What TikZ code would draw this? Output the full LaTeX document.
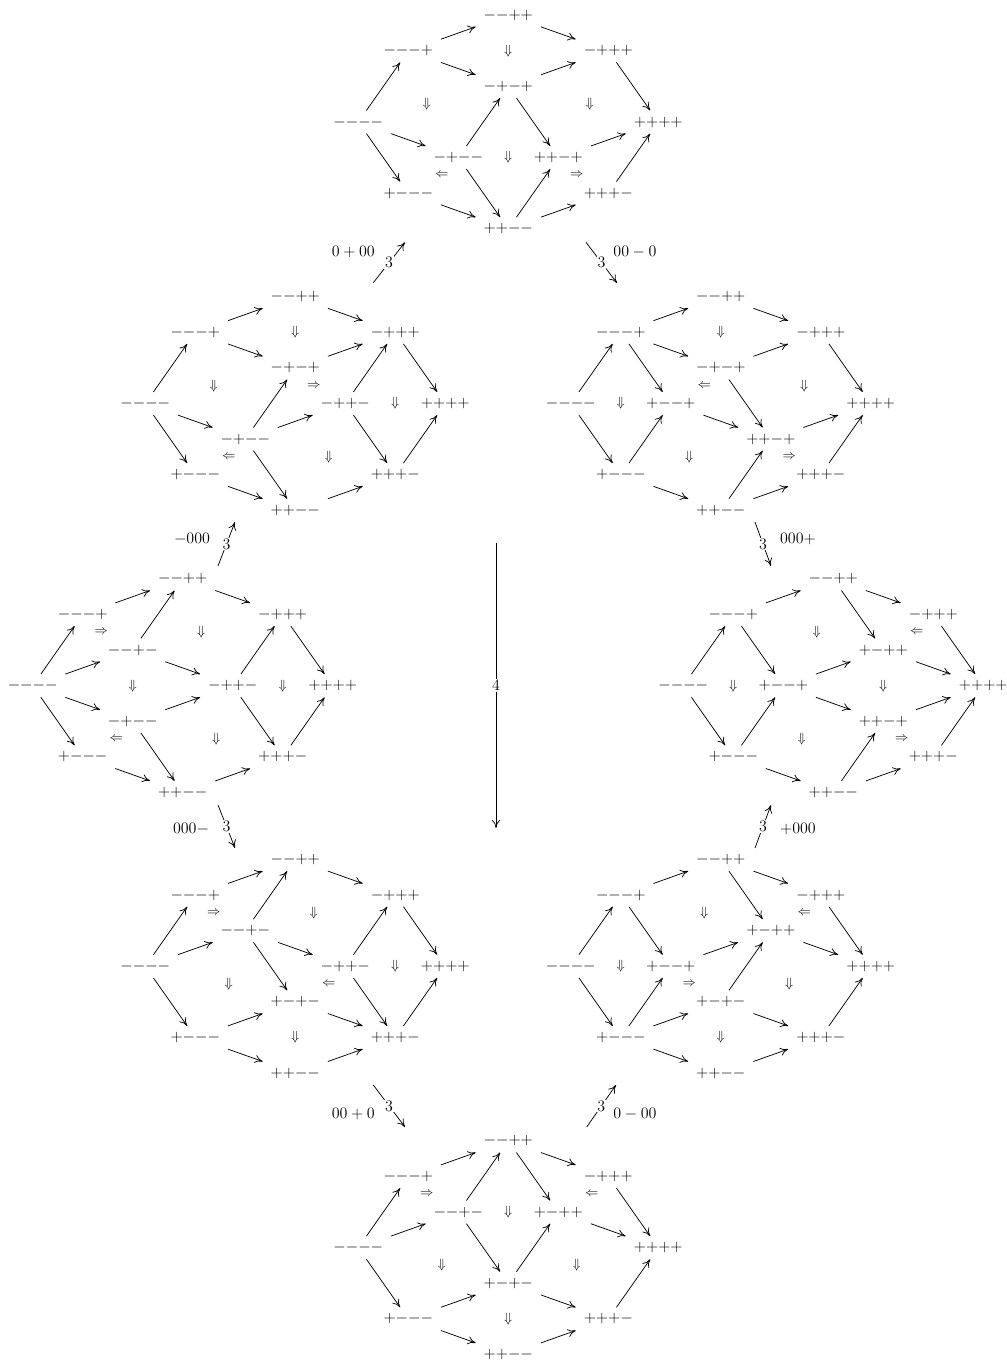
\RequirePackage{fix-cm}
\documentclass[tikz,border=0pt]{standalone}
\usetikzlibrary{arrows.meta}
\newcommand\sv[1]{\if#1p1\else0\fi}
\newcommand\sgn[1]{\if#1p{+}\else{-}\fi}
\newcommand\V[5]{\node[vx] (#1#2#3#4#5) at ({50*(\sv#2+2*\sv#3+2*\sv#4+\sv#5)},{-35.6*(-2*\sv#2-\sv#3+\sv#4+2*\sv#5)}) {$\sgn#2\sgn#3\sgn#4\sgn#5$};}
\newcommand\E[3]{\draw[arr] (#1#2) -- (#1#3);}
\newcommand\Mk[4]{\node[mk] (#1) at ({50*(#2)},{-35.6*(#3)}) {$#4$};}
\newcommand\Bd[1]{%
  \V#1mmmm \V#1mmmp \V#1mmpp \V#1mppp \V#1pppp \V#1pmmm \V#1ppmm \V#1pppm
  \E#1{mmmm}{mmmp}\E#1{mmmp}{mmpp}\E#1{mmpp}{mppp}\E#1{mppp}{pppp}%
  \E#1{mmmm}{pmmm}\E#1{pmmm}{ppmm}\E#1{ppmm}{pppm}\E#1{pppm}{pppp}}
\tikzset{
  vx/.style={inner xsep=6pt, inner ysep=0pt, minimum height=17pt, text height=7pt, text depth=1pt, font=\fontsize{12}{14}\selectfont},
  arr/.style={line width=0.55pt, -{Computer Modern Rightarrow[length=6pt,width=6pt]}},
  mk/.style={inner sep=0pt, font=\fontsize{10}{12}\selectfont},
  lbl/.style={inner sep=1pt, font=\fontsize{12}{14}\selectfont},
  lbl3/.style={fill=white, inner sep=0.6pt, font=\fontsize{12}{14}\selectfont},
}
\begin{document}
\begin{tikzpicture}[x=0.75pt,y=-0.75pt]
\useasboundingbox (0,0) rectangle (1007,1365);
% ---- A (top)
\begin{scope}[shift={(358.3,122)}]
\Bd A
\V Ampmp \V Ampmm \V Appmp
\E A{mmmp}{mpmp}\E A{mpmp}{mppp}\E A{mmmm}{mpmm}\E A{mpmm}{mpmp}
\E A{mpmp}{ppmp}\E A{mpmm}{ppmm}\E A{ppmm}{ppmp}\E A{ppmp}{pppp}
\Mk{Aa}{3}{2}{\Downarrow}\Mk{Ab}{1.37}{0.5}{\Downarrow}\Mk{Ac}{4.63}{0.5}{\Downarrow}
\Mk{Ad}{3}{-1}{\Downarrow}\Mk{Ae}{1.67}{-1.5}{\Leftarrow}\Mk{Af}{4.37}{-1.5}{\Rightarrow}
\end{scope}
% ---- B
\begin{scope}[shift={(145.3,403.5)}]
\Bd B
\V Bmpmp \V Bmppm \V Bmpmm
\E B{mmmp}{mpmp}\E B{mpmp}{mppp}\E B{mmmm}{mpmm}\E B{mpmm}{mpmp}
\E B{mpmm}{mppm}\E B{mpmm}{ppmm}\E B{mppm}{mppp}\E B{mppm}{pppm}
\Mk{Ba}{3}{2}{\Downarrow}\Mk{Bb}{1.37}{0.5}{\Downarrow}\Mk{Bc}{3.37}{0.5}{\Rightarrow}
\Mk{Bd}{5}{0}{\Downarrow}\Mk{Be}{1.67}{-1.5}{\Leftarrow}\Mk{Bf}{3.67}{-1.5}{\Downarrow}
\end{scope}
% ---- C
\begin{scope}[shift={(570.8,403.5)}]
\Bd C
\V Cmpmp \V Cpmmp \V Cppmp
\E C{mmmp}{mpmp}\E C{mpmp}{mppp}\E C{mmmp}{pmmp}\E C{pmmm}{pmmp}
\E C{pmmp}{ppmp}\E C{mpmp}{ppmp}\E C{ppmm}{ppmp}\E C{ppmp}{pppp}
\Mk{Ca}{3}{2}{\Downarrow}\Mk{Cb}{1}{0}{\Downarrow}\Mk{Cc}{2.67}{0.5}{\Leftarrow}
\Mk{Cd}{4.67}{0.5}{\Downarrow}\Mk{Ce}{2.37}{-1.5}{\Downarrow}\Mk{Cf}{4.37}{-1.5}{\Rightarrow}
\end{scope}
% ---- D
\begin{scope}[shift={(32.7,685.7)}]
\Bd D
\V Dmmpm \V Dmppm \V Dmpmm
\E D{mmmm}{mmpm}\E D{mmpm}{mmpp}\E D{mmpm}{mppm}\E D{mmmm}{mpmm}
\E D{mpmm}{mppm}\E D{mpmm}{ppmm}\E D{mppm}{mppp}\E D{mppm}{pppm}
\Mk{Da}{1.37}{1.5}{\Rightarrow}\Mk{Db}{3.37}{1.5}{\Downarrow}\Mk{Dc}{2}{0}{\Downarrow}
\Mk{Dd}{5}{0}{\Downarrow}\Mk{De}{1.67}{-1.5}{\Leftarrow}\Mk{Df}{3.67}{-1.5}{\Downarrow}
\end{scope}
% ---- E
\begin{scope}[shift={(683.3,685.7)}]
\Bd E
\V Epmpp \V Epmmp \V Eppmp
\E E{mmmp}{pmmp}\E E{pmmm}{pmmp}\E E{mmpp}{pmpp}\E E{pmmp}{pmpp}
\E E{pmpp}{pppp}\E E{pmmp}{ppmp}\E E{ppmm}{ppmp}\E E{ppmp}{pppp}
\Mk{Ea}{1}{0}{\Downarrow}\Mk{Eb}{2.67}{1.5}{\Downarrow}\Mk{Ec}{4.67}{1.5}{\Leftarrow}
\Mk{Ed}{4}{0}{\Downarrow}\Mk{Ee}{2.37}{-1.5}{\Downarrow}\Mk{Ef}{4.37}{-1.5}{\Rightarrow}
\end{scope}
% ---- F
\begin{scope}[shift={(145.3,966.3)}]
\Bd F
\V Fmmpm \V Fmppm \V Fpmpm
\E F{mmmm}{mmpm}\E F{mmpm}{mmpp}\E F{mmpm}{mppm}\E F{mmpm}{pmpm}
\E F{pmmm}{pmpm}\E F{pmpm}{pppm}\E F{mppm}{mppp}\E F{mppm}{pppm}
\Mk{Fa}{1.37}{1.5}{\Rightarrow}\Mk{Fb}{3.37}{1.5}{\Downarrow}\Mk{Fc}{1.67}{-0.5}{\Downarrow}
\Mk{Fd}{3.67}{-0.5}{\Leftarrow}\Mk{Fe}{5}{0}{\Downarrow}\Mk{Ff}{3}{-2}{\Downarrow}
\end{scope}
% ---- G
\begin{scope}[shift={(570.8,966.3)}]
\Bd G
\V Gpmpp \V Gpmmp \V Gpmpm
\E G{mmmp}{pmmp}\E G{pmmm}{pmmp}\E G{mmpp}{pmpp}\E G{pmmp}{pmpp}
\E G{pmpm}{pmpp}\E G{pmpp}{pppp}\E G{pmmm}{pmpm}\E G{pmpm}{pppm}
\Mk{Ga}{1}{0}{\Downarrow}\Mk{Gb}{2.67}{1.5}{\Downarrow}\Mk{Gc}{4.67}{1.5}{\Leftarrow}
\Mk{Gd}{2.37}{-0.5}{\Rightarrow}\Mk{Ge}{4.37}{-0.5}{\Downarrow}\Mk{Gf}{3}{-2}{\Downarrow}
\end{scope}
% ---- H (bottom)
\begin{scope}[shift={(358.3,1247.7)}]
\Bd H
\V Hmmpm \V Hpmpp \V Hpmpm
\E H{mmmm}{mmpm}\E H{mmpm}{mmpp}\E H{mmpm}{pmpm}\E H{mmpp}{pmpp}
\E H{pmpm}{pmpp}\E H{pmpp}{pppp}\E H{pmmm}{pmpm}\E H{pmpm}{pppm}
\Mk{Ha}{1.37}{1.5}{\Rightarrow}\Mk{Hb}{3}{1}{\Downarrow}\Mk{Hc}{4.67}{1.5}{\Leftarrow}
\Mk{Hd}{1.67}{-0.5}{\Downarrow}\Mk{He}{4.37}{-0.5}{\Downarrow}\Mk{Hf}{3}{-2}{\Downarrow}
\end{scope}
% ---- connectors between diagrams
\coordinate (a1s) at (373.3,282.7); \coordinate (a1e) at (405,242.3);
\draw[arr] (a1s) -- node[lbl3] (n1) {3} (a1e);
\node[lbl] (t1) at (353.3,251.7) {$0+00$};
\coordinate (a2s) at (586,242.3); \coordinate (a2e) at (617,283);
\draw[arr] (a2s) -- node[lbl3] (n2) {3} (a2e);
\node[lbl] (t2) at (635,251.7) {$00-0$};
\coordinate (a3s) at (218,566); \coordinate (a3e) at (235,522);
\draw[arr] (a3s) -- node[lbl3] (n3) {3} (a3e);
\node[lbl] (t3) at (192,539) {$-000$};
\coordinate (a4s) at (755,522); \coordinate (a4e) at (771,566);
\draw[arr] (a4s) -- node[lbl3] (n4) {3} (a4e);
\node[lbl] (t4) at (798,539) {$000+$};
\coordinate (a5s) at (218,805); \coordinate (a5e) at (235,848);
\draw[arr] (a5s) -- node[lbl3] (n5) {3} (a5e);
\node[lbl] (t5) at (191,829) {$000-$};
\coordinate (a6s) at (755,848); \coordinate (a6e) at (771,805);
\draw[arr] (a6s) -- node[lbl3] (n6) {3} (a6e);
\node[lbl] (t6) at (798,829) {$+000$};
\coordinate (a7s) at (373.3,1085); \coordinate (a7e) at (405,1127);
\draw[arr] (a7s) -- node[lbl3] (n7) {3} (a7e);
\node[lbl] (t7) at (353.3,1114) {$00+0$};
\coordinate (a8s) at (586.7,1127); \coordinate (a8e) at (616,1085);
\draw[arr] (a8s) -- node[lbl3] (n8) {3} (a8e);
\node[lbl] (t8) at (635,1114) {$0-00$};
\coordinate (cts) at (496,543); \coordinate (cte) at (496,828);
\draw[arr] (cts) -- node[lbl3] (n9) {4} (cte);
\end{tikzpicture}
\end{document}
